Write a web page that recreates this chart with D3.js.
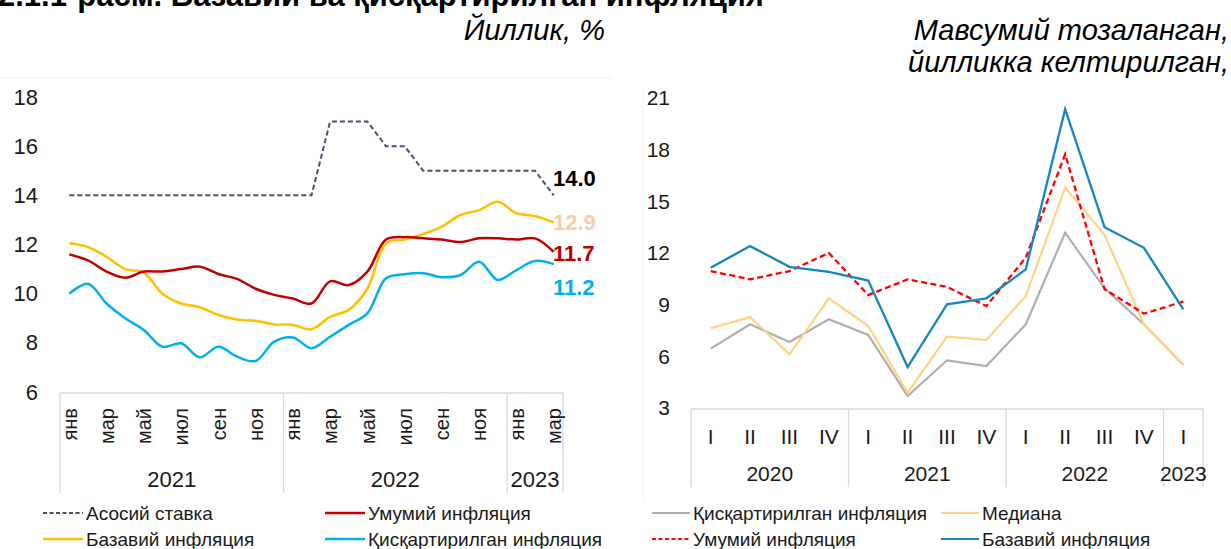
<!DOCTYPE html>
<html>
<head>
<meta charset="utf-8">
<script src="https://cdn.jsdelivr.net/npm/d3@7"></script>
<style>
  html, body { margin: 0; padding: 0; background: #fff; }
  svg { display: block; font-family: "Liberation Sans", Arial, sans-serif; }
</style>
</head>
<body>
<svg id="chart" width="1231" height="549"></svg>
<script>
// ---------------- DATA ----------------
const titleText = "2.1.1-расм. Базавий ва қисқартирилган инфляция";
const leftSubtitle = "Йиллик, %";
const rightSubtitle = ["Мавсумий тозаланган,", "йилликка келтирилган,"];

// Left chart: monthly, Jan 2021 – Mar 2023
const monthNames = ["янв","фев","мар","апр","май","июн","июл","авг","сен","окт","ноя","дек"];
const leftYears = ["2021", "2022", "2023"];
const leftYearMonths = [12, 12, 3];
const leftTicks = [6, 8, 10, 12, 14, 16, 18];

const policyRate = [14,14,14,14,14,14,14,14,14,14,14,14,14,14,17,17,17,16,16,15,15,15,15,15,15,15,14];
const headlineInfl = [11.6,11.35,10.9,10.65,10.9,10.9,11.0,11.1,10.8,10.6,10.2,9.95,9.8,9.6,10.5,10.35,10.9,12.2,12.3,12.25,12.2,12.1,12.25,12.25,12.2,12.25,11.7];
const coreInfl = [12.05,11.9,11.5,11.0,10.85,10.0,9.6,9.45,9.13,8.95,8.9,8.75,8.73,8.55,9.06,9.34,10.2,12.05,12.2,12.43,12.73,13.2,13.4,13.74,13.27,13.16,12.9];
const trimmedInfl = [10.0,10.4,9.6,9.0,8.52,7.84,7.98,7.41,7.84,7.44,7.26,8.05,8.22,7.78,8.25,8.73,9.2,10.63,10.79,10.83,10.67,10.76,11.3,10.56,10.96,11.33,11.2];
const leftEndLabels = ["14.0", "12.9", "11.7", "11.2"];

const leftLegend = ["Асосий ставка", "Умумий инфляция", "Базавий инфляция", "Қисқартирилган инфляция"];

// Right chart: quarterly SA annualized, 2020Q1 – 2023Q1
const quarterNames = ["I","II","III","IV"];
const rightYears = ["2020", "2021", "2022", "2023"];
const rightYearQuarters = [4, 4, 4, 1];
const rightTicks = [3, 6, 9, 12, 15, 18, 21];

const trimmedQ = [6.45,7.86,6.83,8.15,7.24,3.7,5.77,5.44,7.86,13.18,9.95,7.86,5.5];
const medianQ = [7.63,8.28,6.12,9.37,7.76,3.89,7.14,6.95,9.5,15.8,13.05,7.86,5.5];
const headlineQ = [10.95,10.47,10.95,12.0,9.56,10.47,10.03,8.92,11.73,17.73,9.9,8.48,9.18];
const coreQ = [11.15,12.4,11.2,10.9,10.4,5.38,9.02,9.37,11.05,20.35,13.5,12.3,8.73];

const rightLegend = ["Қисқартирилган инфляция", "Медиана", "Умумий инфляция", "Базавий инфляция"];

// ---------------- DRAW ----------------
const svg = d3.select("#chart");
const txt = "#1a1a1a";
const gridGray = "#d9d9d9";

// faint chart-area borders
svg.append("line").attr("x1", 0).attr("x2", 612).attr("y1", 78).attr("y2", 78)
  .attr("stroke", "#f0f0f0").attr("stroke-width", 1);
svg.append("line").attr("x1", 643).attr("x2", 643).attr("y1", 88).attr("y2", 500)
  .attr("stroke", "#f0f0f0").attr("stroke-width", 1);

// Title (clipped at top, as in the source page)
svg.append("text").attr("x", -2).attr("y", 6)
  .attr("font-size", 31).attr("font-weight", "bold").attr("fill", "#000")
  .text(titleText);

svg.append("text").attr("x", 605).attr("y", 40).attr("text-anchor", "end")
  .attr("font-size", 29).attr("font-style", "italic").attr("fill", "#000")
  .text(leftSubtitle);
rightSubtitle.forEach((t, i) => {
  svg.append("text").attr("x", 1229).attr("y", 40 + i * 32).attr("text-anchor", "end")
    .attr("font-size", 29).attr("font-style", "italic").attr("fill", "#000")
    .text(t);
});

// ===== LEFT CHART =====
const nM = policyRate.length;
const idxL = d3.range(nM);
const xL = d3.scaleBand().domain(idxL).range([60, 563]).padding(0);
const cxL = i => xL(i) + xL.bandwidth() / 2;
const yL = d3.scaleLinear().domain([6, 18]).range([392, 97]);

// y axis labels
const yAxisL = d3.axisLeft(yL).tickValues(leftTicks).tickSize(0).tickPadding(22).tickFormat(d3.format("d"));
const gyL = svg.append("g").attr("transform", "translate(60,0)").call(yAxisL);
gyL.select(".domain").remove();
gyL.selectAll("text").attr("font-size", 22).attr("fill", txt).attr("font-family", "Liberation Sans, Arial, sans-serif");

// category axis box
const axL = svg.append("g");
axL.append("line").attr("x1", 60).attr("x2", 563).attr("y1", 393).attr("y2", 393)
  .attr("stroke", gridGray).attr("stroke-width", 1.3);
let start = 0;
const boundsL = [0];
leftYearMonths.forEach(c => { start += c; boundsL.push(start); });
boundsL.forEach(b => {
  const x = b < nM ? xL(b) : xL(nM - 1) + xL.bandwidth();
  axL.append("line").attr("x1", x).attr("x2", x).attr("y1", 393).attr("y2", 493)
    .attr("stroke", gridGray).attr("stroke-width", 1.3);
});
// month labels
idxL.forEach(i => {
  if (i % 2 !== 0) return;
  axL.append("text")
    .attr("transform", `translate(${cxL(i)},408) rotate(-90)`)
    .attr("text-anchor", "end").attr("dy", "0.36em")
    .attr("font-size", 20).attr("fill", txt)
    .text(monthNames[i % 12]);
});
// year labels
leftYears.forEach((yr, k) => {
  const a = xL(boundsL[k]);
  const b = boundsL[k + 1] < nM ? xL(boundsL[k + 1]) : xL(nM - 1) + xL.bandwidth();
  axL.append("text").attr("x", (a + b) / 2).attr("y", 487).attr("text-anchor", "middle")
    .attr("font-size", 22).attr("fill", txt).text(yr);
});

const smooth = d3.line().x((d, i) => cxL(i)).y(d => yL(d)).curve(d3.curveCatmullRom.alpha(0.5));
const straightL = d3.line().x((d, i) => cxL(i)).y(d => yL(d));

svg.append("path").datum(trimmedInfl).attr("d", smooth).attr("fill", "none")
  .attr("stroke", "#00B0F0").attr("stroke-width", 2.5);
svg.append("path").datum(coreInfl).attr("d", smooth).attr("fill", "none")
  .attr("stroke", "#FFC000").attr("stroke-width", 2.5);
svg.append("path").datum(headlineInfl).attr("d", smooth).attr("fill", "none")
  .attr("stroke", "#C00000").attr("stroke-width", 2.5);
svg.append("path").datum(policyRate).attr("d", straightL).attr("fill", "none")
  .attr("stroke", "#44546A").attr("stroke-width", 2).attr("stroke-dasharray", "5,3");

// end labels
const endColors = ["#000000", "#F8CBAD", "#C00000", "#00B0F0"];
const endY = [178, 222, 253, 287];
leftEndLabels.forEach((t, k) => {
  svg.append("text").attr("x", 553).attr("y", endY[k]).attr("dy", "0.36em")
    .attr("font-size", 22).attr("font-weight", "bold").attr("fill", endColors[k]).text(t);
});

// left legend
const legL = [
  { x: 43, y: 513, color: "#44546A", dash: "4,2.5", w: 2 },
  { x: 325, y: 513, color: "#C00000", dash: null, w: 2.5 },
  { x: 43, y: 539, color: "#FFC000", dash: null, w: 2.5 },
  { x: 325, y: 539, color: "#00B0F0", dash: null, w: 2.5 }
];
legL.forEach((l, k) => {
  svg.append("line").attr("x1", l.x).attr("x2", l.x + 40).attr("y1", l.y).attr("y2", l.y)
    .attr("stroke", l.color).attr("stroke-width", l.w).attr("stroke-dasharray", l.dash);
  svg.append("text").attr("x", l.x + 43).attr("y", l.y).attr("dy", "0.36em")
    .attr("font-size", 19).attr("fill", txt).text(leftLegend[k]);
});

// ===== RIGHT CHART =====
const nQ = coreQ.length;
const idxR = d3.range(nQ);
const xR = d3.scaleBand().domain(idxR).range([691, 1203]).padding(0);
const cxR = i => xR(i) + xR.bandwidth() / 2;
const yR = d3.scaleLinear().domain([3, 21]).range([408, 98]);

const yAxisR = d3.axisLeft(yR).tickValues(rightTicks).tickSize(0).tickPadding(21).tickFormat(d3.format("d"));
const gyR = svg.append("g").attr("transform", "translate(691,0)").call(yAxisR);
gyR.select(".domain").remove();
gyR.selectAll("text").attr("font-size", 21).attr("fill", txt).attr("font-family", "Liberation Sans, Arial, sans-serif");

const axR = svg.append("g");
axR.append("line").attr("x1", 691).attr("x2", 1203).attr("y1", 409).attr("y2", 409)
  .attr("stroke", gridGray).attr("stroke-width", 1.3);
start = 0;
const boundsR = [0];
rightYearQuarters.forEach(c => { start += c; boundsR.push(start); });
const bx = b => b < nQ ? xR(b) : xR(nQ - 1) + xR.bandwidth();
boundsR.forEach(b => {
  axR.append("line").attr("x1", bx(b)).attr("x2", bx(b)).attr("y1", 409).attr("y2", 487)
    .attr("stroke", gridGray).attr("stroke-width", 1.3);
});
idxR.forEach(i => {
  axR.append("text").attr("x", cxR(i)).attr("y", 436).attr("dy", "0.36em")
    .attr("text-anchor", "middle").attr("font-size", 21).attr("fill", txt)
    .text(quarterNames[i % 4]);
});
rightYears.forEach((yr, k) => {
  axR.append("text").attr("x", (bx(boundsR[k]) + bx(boundsR[k + 1])) / 2).attr("y", 481)
    .attr("text-anchor", "middle").attr("font-size", 21).attr("fill", txt).text(yr);
});

const lineR = d3.line().x((d, i) => cxR(i)).y(d => yR(d));
svg.append("path").datum(trimmedQ).attr("d", lineR).attr("fill", "none")
  .attr("stroke", "#AFAFAF").attr("stroke-width", 2.2);
svg.append("path").datum(medianQ).attr("d", lineR).attr("fill", "none")
  .attr("stroke", "#FFD384").attr("stroke-width", 2.2);
svg.append("path").datum(headlineQ).attr("d", lineR).attr("fill", "none")
  .attr("stroke", "#FF0000").attr("stroke-width", 2.3).attr("stroke-dasharray", "6,3.5");
svg.append("path").datum(coreQ).attr("d", lineR).attr("fill", "none")
  .attr("stroke", "#1685C0").attr("stroke-width", 2.3);

const legR = [
  { x: 652, y: 513, color: "#AFAFAF", dash: null },
  { x: 941, y: 513, color: "#FFD384", dash: null },
  { x: 652, y: 539, color: "#FF0000", dash: "4,2.5" },
  { x: 941, y: 539, color: "#1685C0", dash: null }
];
legR.forEach((l, k) => {
  svg.append("line").attr("x1", l.x).attr("x2", l.x + 38).attr("y1", l.y).attr("y2", l.y)
    .attr("stroke", l.color).attr("stroke-width", 2).attr("stroke-dasharray", l.dash);
  svg.append("text").attr("x", l.x + 41).attr("y", l.y).attr("dy", "0.36em")
    .attr("font-size", 19).attr("fill", txt).text(rightLegend[k]);
});
</script>
</body>
</html>
